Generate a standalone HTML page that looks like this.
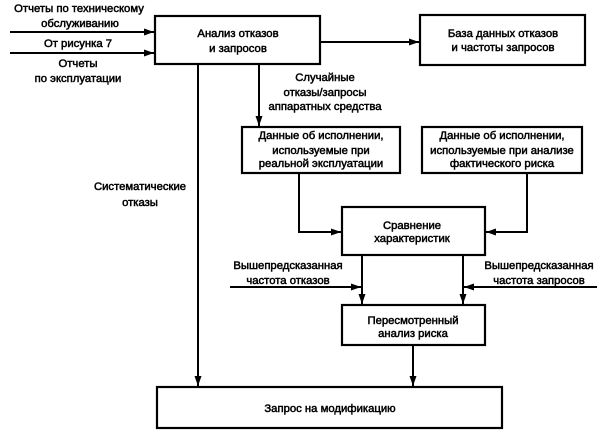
<!DOCTYPE html>
<html><head><meta charset="utf-8"><style>
html,body{margin:0;padding:0;background:#fff;}
svg{display:block;}
text{font-family:"Liberation Sans",Arial,sans-serif;font-size:11.3px;fill:#000;stroke:#000;stroke-width:0.5px;}
</style></head><body>
<svg width="605" height="436" viewBox="0 0 605 436" xmlns="http://www.w3.org/2000/svg">
<defs>
<marker id="a" markerWidth="11" markerHeight="9" refX="10" refY="4.5" orient="auto" markerUnits="userSpaceOnUse">
<path d="M0,1 L10,4.5 L0,8 Z" fill="#000"/>
</marker>
</defs>
<g fill="none" stroke="#000" stroke-width="2.2">
<rect x="155" y="16" width="165" height="48"/>
<rect x="420" y="15" width="165" height="50"/>
<rect x="242" y="127" width="158" height="46"/>
<rect x="422" y="127" width="160" height="46"/>
<rect x="342" y="207" width="143" height="48"/>
<rect x="342" y="305" width="143" height="40"/>
<rect x="157" y="387" width="345" height="41"/>
</g>
<g fill="none" stroke="#000" stroke-width="2">
<line x1="10" y1="32" x2="154" y2="32" marker-end="url(#a)"/>
<line x1="10" y1="53" x2="154" y2="53" marker-end="url(#a)"/>
<line x1="321" y1="42" x2="419" y2="42" marker-end="url(#a)"/>
<line x1="259" y1="65" x2="259" y2="126" marker-end="url(#a)"/>
<line x1="198" y1="65" x2="198" y2="386" marker-end="url(#a)"/>
<polyline points="299,174 299,232 341,232" marker-end="url(#a)"/>
<polyline points="527,174 527,232 486,232" marker-end="url(#a)"/>
<line x1="362" y1="256" x2="362" y2="304" marker-end="url(#a)"/>
<line x1="463" y1="256" x2="463" y2="304" marker-end="url(#a)"/>
<line x1="230" y1="287" x2="361" y2="287" marker-end="url(#a)"/>
<line x1="597" y1="287" x2="464" y2="287" marker-end="url(#a)"/>
<line x1="413" y1="346" x2="413" y2="386" marker-end="url(#a)"/>
</g>
<g text-anchor="middle">
<text x="79" y="12">Отчеты по техническому</text>
<text x="80" y="27">обслуживанию</text>
<text x="78" y="47">От рисунка 7</text>
<text x="78" y="67">Отчеты</text>
<text x="78" y="82">по эксплуатации</text>
<text x="238" y="37">Анализ отказов</text>
<text x="238" y="52">и запросов</text>
<text x="503" y="37">База данных отказов</text>
<text x="503" y="51">и частоты запросов</text>
<text x="325" y="81">Случайные</text>
<text x="325" y="96">отказы/запросы</text>
<text x="325" y="110">аппаратных средства</text>
<text x="321" y="139">Данные об исполнении,</text>
<text x="321" y="154">используемые при</text>
<text x="321" y="167">реальной эксплуатации</text>
<text x="502" y="139">Данные об исполнении,</text>
<text x="502" y="154">используемые при анализе</text>
<text x="502" y="167">фактического риска</text>
<text x="140" y="190">Систематические</text>
<text x="140" y="206">отказы</text>
<text x="412" y="229">Сравнение</text>
<text x="412" y="242">характеристик</text>
<text x="288" y="269">Вышепредсказанная</text>
<text x="288" y="284">частота отказов</text>
<text x="539" y="269">Вышепредсказанная</text>
<text x="539" y="284">частота запросов</text>
<text x="413" y="324">Пересмотренный</text>
<text x="413" y="337">анализ риска</text>
<text x="330" y="412">Запрос на модификацию</text>
</g>
</svg>
</body></html>
